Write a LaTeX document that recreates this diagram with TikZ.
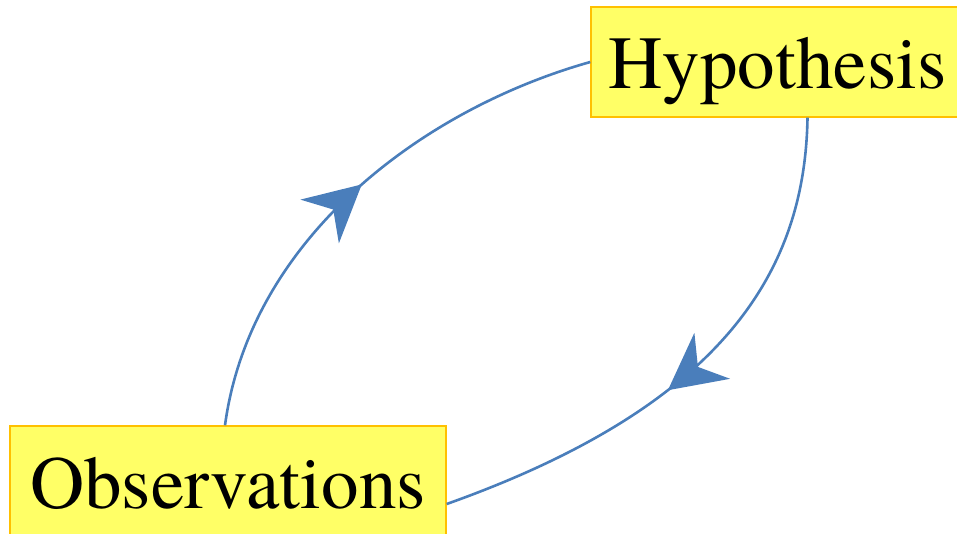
\documentclass[tikz,border=0pt]{standalone}
\usepackage{fontspec}
\newfontfamily\boxfont{texgyretermes-regular.otf}
\usetikzlibrary{arrows.meta,decorations.markings}
\definecolor{boxfill}{HTML}{FFFF66}
\definecolor{boxline}{HTML}{FFC000}
\definecolor{flow}{HTML}{4A7EBB}
\tikzset{
  termbox/.style={draw=boxline, fill=boxfill, line width=1.4pt, inner sep=0pt,
    text height=54pt, text depth=0pt,
    minimum width=373pt, minimum height=110pt, font=\boxfont\fontsize{75}{80}\selectfont, text=black},
  flowline/.style={draw=flow, line width=2.6pt},
  midarrow/.style={postaction={decorate}, decoration={markings,
    mark=at position #1 with {\arrow[flow]{Stealth[length=56pt,width=58pt,inset=18pt]}}}}
}
\begin{document}
\begin{tikzpicture}[x=1pt,y=-1pt]
\useasboundingbox (0,0) rectangle (957,534);
\node[termbox] (hyp) at (777.5,62) {Hypothesis};
\node[termbox, minimum width=436pt] (obs) at (228,481) {Observations};
\path[flowline, midarrow=0.52] ([xshift=-3pt]obs.north) .. controls (250,240) and (420,110) .. (hyp.west);
\path[flowline, midarrow=0.56] ([xshift=30pt]hyp.south) .. controls (805,270) and (725,405) .. ([yshift=-23pt]obs.east);
\end{tikzpicture}
\end{document}
